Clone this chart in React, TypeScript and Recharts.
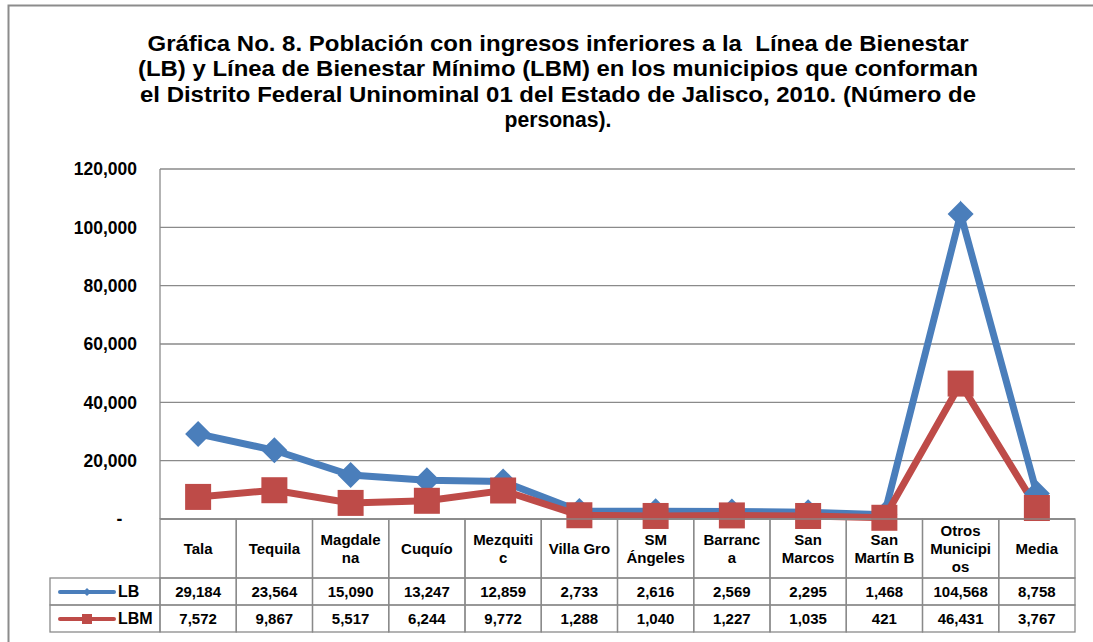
import React from 'react'
import { LineChart, Line, XAxis, YAxis, CartesianGrid } from 'recharts'

// chart data
const categories = [
  'Tala', 'Tequila', 'Magdale\nna', 'Cuquío', 'Mezquiti\nc', 'Villa Gro',
  'SM\nÁngeles', 'Barranc\na', 'San\nMarcos', 'San\nMartín B', 'Otros\nMunicipi\nos', 'Media',
]
const lbValues = [29184, 23564, 15090, 13247, 12859, 2733, 2616, 2569, 2295, 1468, 104568, 8758]
const lbmValues = [7572, 9867, 5517, 6244, 9772, 1288, 1040, 1227, 1035, 421, 46431, 3767]
const yTicks = [0, 20000, 40000, 60000, 80000, 100000, 120000]
const seriesNames = ['LB', 'LBM']
const titleLines = [
  'Gráfica No. 8. Población con ingresos inferiores a la  Línea de Bienestar',
  '(LB) y Línea de Bienestar Mínimo (LBM) en los municipios que conforman',
  'el Distrito Federal Uninominal 01 del Estado de Jalisco, 2010. (Número de',
  'personas).',
]
// widths the title lines take in the reference
const titleWidths = [821, 840, 836, 107]

const chartData = categories.map((name, i) => ({
  name,
  lb: lbValues[i],
  lbm: lbmValues[i],
}))

// layout
const W = 1093
const H = 642
const PLOT_LEFT = 160
const PLOT_RIGHT = 1075
const PLOT_TOP = 169
const PLOT_BOTTOM = 519
const HEADER_BOTTOM = 578
const ROW1_BOTTOM = 605
const ROW2_BOTTOM = 632
const LEGEND_LEFT = 50
const BAND = (PLOT_RIGHT - PLOT_LEFT) / categories.length

const BLUE = '#4A7EBB'
const RED = '#BE4B48'
const GRID = '#8a8a8a'
const FONT = "'Liberation Sans', Arial, sans-serif"

const fmt = (v: number) => v.toLocaleString('en-US')

function Diamond({ cx, cy, r }: { cx: number; cy: number; r: number }) {
  return (
    <polygon
      points={`${cx},${cy - r} ${cx + r},${cy} ${cx},${cy + r} ${cx - r},${cy}`}
      fill={BLUE}
    />
  )
}

function Square({ cx, cy, r }: { cx: number; cy: number; r: number }) {
  return <rect x={cx - r} y={cy - r} width={r * 2} height={r * 2} fill={RED} />
}

function TableTick(props: any) {
  const { x, payload, index } = props
  const left = x - BAND / 2
  const lines = String(payload.value).split('\n')
  const midHeader = (PLOT_BOTTOM + HEADER_BOTTOM) / 2
  const lh = 18
  const startY = midHeader - ((lines.length - 1) * lh) / 2
  return (
    <g fontFamily={FONT} fontWeight="bold" fontSize={15} fill="#000">
      <rect x={left} y={PLOT_BOTTOM} width={BAND} height={HEADER_BOTTOM - PLOT_BOTTOM} fill="none" stroke={GRID} strokeWidth={1.3} />
      <rect x={left} y={HEADER_BOTTOM} width={BAND} height={ROW1_BOTTOM - HEADER_BOTTOM} fill="none" stroke={GRID} strokeWidth={1.3} />
      <rect x={left} y={ROW1_BOTTOM} width={BAND} height={ROW2_BOTTOM - ROW1_BOTTOM} fill="none" stroke={GRID} strokeWidth={1.3} />
      {lines.map((t, i) => (
        <text key={i} x={x} y={startY + i * lh} textAnchor="middle" dominantBaseline="central">{t}</text>
      ))}
      <text x={x} y={(HEADER_BOTTOM + ROW1_BOTTOM) / 2} textAnchor="middle" dominantBaseline="central">{fmt(lbValues[index])}</text>
      <text x={x} y={(ROW1_BOTTOM + ROW2_BOTTOM) / 2} textAnchor="middle" dominantBaseline="central">{fmt(lbmValues[index])}</text>
      {index === 0 && (
        <g>
          <rect x={LEGEND_LEFT} y={HEADER_BOTTOM} width={PLOT_LEFT - LEGEND_LEFT} height={ROW1_BOTTOM - HEADER_BOTTOM} fill="none" stroke={GRID} strokeWidth={1.3} />
          <rect x={LEGEND_LEFT} y={ROW1_BOTTOM} width={PLOT_LEFT - LEGEND_LEFT} height={ROW2_BOTTOM - ROW1_BOTTOM} fill="none" stroke={GRID} strokeWidth={1.3} />
          <line x1={60} x2={114} y1={592} y2={592} stroke={BLUE} strokeWidth={4} strokeLinecap="round" />
          <Diamond cx={87} cy={592} r={4} />
          <text x={118} y={591} dominantBaseline="central" fontSize={16} fontWeight="bold">{seriesNames[0]}</text>
          <line x1={60} x2={114} y1={619} y2={619} stroke={RED} strokeWidth={4} strokeLinecap="round" />
          <Square cx={87} cy={619} r={5} />
          <text x={118} y={618} dominantBaseline="central" fontSize={16} fontWeight="bold">{seriesNames[1]}</text>
        </g>
      )}
    </g>
  )
}

export default function App() {
  return (
    <div style={{ position: 'absolute', left: 0, top: 0, width: W, height: H, background: '#fff' }}>
      <svg width={W} height={H} style={{ position: 'absolute', left: 0, top: 0 }}>
        <path d={`M ${W} 5.5 H 8.5 V ${H}`} fill="none" stroke="#8c8c8c" strokeWidth={2} />
        {titleLines.map((t, i) => (
          <text
            key={i}
            x={558}
            y={51 + i * 25.3}
            textAnchor="middle"
            textLength={titleWidths[i]}
            lengthAdjust="spacingAndGlyphs"
            fontFamily={FONT}
            fontWeight="bold"
            fontSize={22}
            fill="#000"
            style={{ whiteSpace: 'pre' }}
          >
            {t}
          </text>
        ))}
      </svg>
      <div style={{ position: 'absolute', left: 0, top: 0 }}>
        <LineChart
          width={W}
          height={H}
          data={chartData}
          margin={{ top: PLOT_TOP, right: W - PLOT_RIGHT, left: 0, bottom: H - ROW2_BOTTOM }}
        >
          <CartesianGrid vertical={false} stroke={GRID} strokeWidth={1.3} />
          <XAxis
            dataKey="name"
            interval={0}
            padding={{ left: BAND / 2, right: BAND / 2 }}
            height={ROW2_BOTTOM - PLOT_BOTTOM}
            axisLine={{ stroke: GRID, strokeWidth: 1.3 }}
            tickLine={false}
            tick={<TableTick />}
          />
          <YAxis
            width={PLOT_LEFT}
            domain={[0, 120000]}
            ticks={yTicks}
            interval={0}
            tickLine={false}
            tickMargin={17}
            axisLine={{ stroke: GRID, strokeWidth: 1.3 }}
            tickFormatter={(v: number) => (v === 0 ? '-\u00A0\u00A0\u00A0' : fmt(v))}
            tick={{ fontFamily: FONT, fontWeight: 'bold', fontSize: 17.5, fill: '#000' }}
          />
          <Line
            type="linear"
            dataKey="lb"
            name={seriesNames[0]}
            stroke={BLUE}
            strokeWidth={7}
            isAnimationActive={false}
            dot={(p: any) => <Diamond key={`lb-${p.index}`} cx={p.cx} cy={p.cy} r={13} />}
            activeDot={false}
          />
          <Line
            type="linear"
            dataKey="lbm"
            name={seriesNames[1]}
            stroke={RED}
            strokeWidth={7}
            isAnimationActive={false}
            dot={(p: any) => <Square key={`lbm-${p.index}`} cx={p.cx} cy={p.cy} r={13} />}
            activeDot={false}
          />
        </LineChart>
      </div>
    </div>
  )
}
